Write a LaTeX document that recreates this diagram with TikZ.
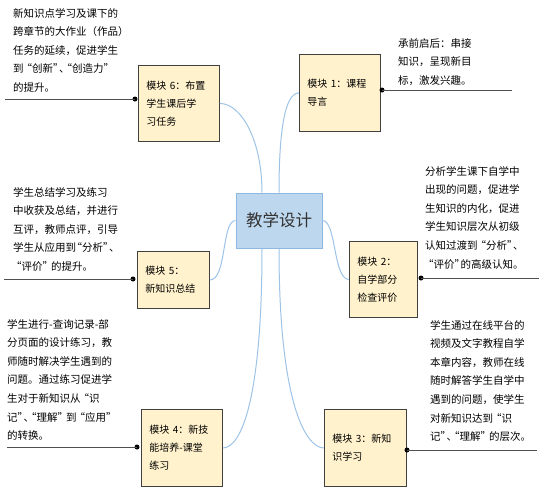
\documentclass[tikz,border=0pt]{standalone}
\usepackage{fontspec}
\setmainfont{Noto Sans CJK SC}
\usetikzlibrary{calc}
\definecolor{boxfill}{HTML}{FFF2CC}
\definecolor{boxline}{HTML}{404040}
\definecolor{cfill}{HTML}{BDD7EE}
\definecolor{cline}{HTML}{8FB8E0}
\definecolor{branch}{HTML}{9DC3E6}
\definecolor{leader}{HTML}{505050}
\newcommand\txtline[1]{\hbox{#1}}
\newcommand\oq{\kern-4.5pt“}
\newcommand\cq{”\kern-4.5pt}
\newcommand\dn{、\kern-3.5pt}
\newcommand\gapx{\kern2.5pt}
\begin{document}
\begin{tikzpicture}[x=1pt,y=-1pt,
  modbox/.style={draw=boxline, fill=boxfill, line width=0.9pt, anchor=north west,
    align=left, inner xsep=8pt, inner ysep=0pt, font=\fontsize{10}{18}\selectfont},
  note/.style={anchor=base west, inner sep=0pt, font=\fontsize{10.5}{18.6}\selectfont},
  dot/.style={circle, fill=black, inner sep=0pt, minimum size=5pt},
  leaderline/.style={draw=leader, line width=1pt},
  branchline/.style={draw=branch, line width=1pt}
]
\useasboundingbox (0,0) rectangle (539,491);

% centre
\node[draw=cline, fill=cfill, line width=1pt, minimum width=86pt, minimum height=55pt,
  inner sep=0pt, font=\fontsize{16.5}{20}\selectfont, text=black!80] (c) at (279,220.5) {教学设计};

% module boxes
\node[modbox, text width=65pt, minimum height=76pt] (m6) at (138,65) {模块 6：布置\\学生课后学\\习任务};
\node[modbox, text width=65pt, minimum height=77pt] (m1) at (299,54) {模块 1：课程\\导言};
\node[modbox, text width=56pt, minimum height=57pt] (m5) at (137,251) {模块 5：\\新知识总结};
\node[modbox, text width=52pt, minimum height=76pt] (m2) at (349,241) {模块 2：\\自学部分\\检查评价};
\node[modbox, text width=65pt, minimum height=77pt] (m4) at (141,409) {模块 4：新技\\能培养-课堂\\练习};
\node[modbox, text width=66pt, minimum height=77pt] (m3) at (324,409) {模块 3：新知\\识学习};

% branches
\draw[branchline] ($(c.north)+(-17,0)$) .. controls +(0,-53) and +(21,0) .. (m6.east);
\draw[branchline] (c.north) .. controls +(0,-63) and +(-14,0) .. (m1.west);
\draw[branchline] (c.west) .. controls +(-14,0) and +(17,0) .. (m5.east);
\draw[branchline] (c.east) .. controls +(14,0) and +(-16,0) .. (m2.west);
\draw[branchline] ($(c.south)+(-17,0)$) .. controls +(0,152) and +(18,0) .. (m4.east);
\draw[branchline] (c.south) .. controls +(0,152) and +(-19,0) .. (m3.west);

% leader lines with dots
\coordinate (e6) at (5,99);
\coordinate (e1) at (512,90);
\coordinate (e5) at (4,279);
\coordinate (e2) at (539,278);
\coordinate (e4) at (7,447);
\coordinate (e3) at (537,450);
\node[dot] (d6) at (135,99) {};
\node[dot] (d1) at (382,90) {};
\node[dot] (d5) at (133,279) {};
\node[dot] (d2) at (421,278) {};
\node[dot] (d4) at (137,447) {};
\node[dot] (d3) at (407,450) {};
\draw[leaderline] (d6.center) -- (e6);
\draw[leaderline] (d1.center) -- (e1);
\draw[leaderline] (d5.center) -- (e5);
\draw[leaderline] (d2.center) -- (e2);
\draw[leaderline] (d4.center) -- (e4);
\draw[leaderline] (d3.center) -- (e3);

% notes
\node[note] (t6) at (13,17) {\vtop{\txtline{新知识点学习及课下的}\txtline{跨章节的大作业（作品）}\txtline{任务的延续，促进学生}\txtline{到\gapx\oq 创新\cq\dn\oq 创造力\cq}\txtline{的提升。}}};
\node[note] (t1) at (398,47) {\vtop{\txtline{承前启后：串接}\txtline{知识，呈现新目}\txtline{标，激发兴趣。}}};
\node[note] (t5) at (13,196) {\vtop{\txtline{学生总结学习及练习}\txtline{中收获及总结，并进行}\txtline{互评，教师点评，引导}\txtline{学生从应用到\oq 分析\cq\dn}\txtline{\gapx\oq 评价\cq\gapx 的提升。}}};
\node[note] (t2) at (425,175) {\vtop{\txtline{分析学生课下自学中}\txtline{出现的问题，促进学}\txtline{生知识的内化，促进}\txtline{学生知识层次从初级}\txtline{认知过渡到\gapx\oq 分析\cq\dn}\txtline{\gapx\oq 评价\cq 的高级认知。}}};
\node[note] (t4) at (7,328) {\vtop{\txtline{学生进行-查询记录-部}\txtline{分页面的设计练习，教}\txtline{师随时解决学生遇到的}\txtline{问题。通过练习促进学}\txtline{生对于新知识从\gapx\oq 识}\txtline{记\cq\dn\oq 理解\cq\gapx 到\gapx\oq 应用\cq}\txtline{的转换。}}};
\node[note] (t3) at (430,329) {\vtop{\txtline{学生通过在线平台的}\txtline{视频及文字教程自学}\txtline{本章内容，教师在线}\txtline{随时解答学生自学中}\txtline{遇到的问题，使学生}\txtline{对新知识达到\gapx\oq 识}\txtline{记\cq\dn\oq 理解\cq\gapx 的层次。}}};
\end{tikzpicture}
\end{document}
